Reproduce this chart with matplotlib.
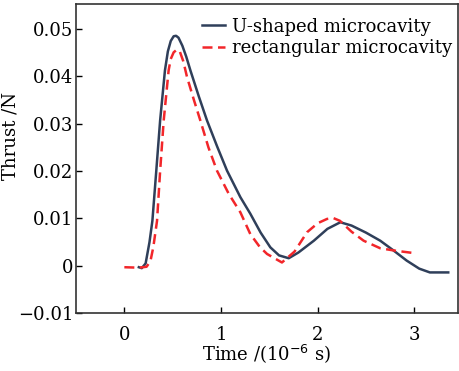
import matplotlib.pyplot as plt

# U-shaped microcavity (solid)
t_u = [0.15, 0.18, 0.22, 0.26, 0.29, 0.33, 0.37, 0.42, 0.45, 0.48, 0.51, 0.535, 0.56, 0.60,
       0.64, 0.683, 0.77, 0.855, 0.96, 1.062, 1.2, 1.303, 1.41, 1.51, 1.60, 1.70, 1.80, 1.96,
       2.10, 2.234, 2.35, 2.50, 2.647, 2.78, 2.92, 3.05, 3.16, 3.35]
f_u = [-0.0003, -0.0005, 0.0005, 0.005, 0.0095, 0.020, 0.0307, 0.0413, 0.0453, 0.0475, 0.0485,
       0.0486, 0.0482, 0.0465, 0.0442, 0.0413, 0.0358, 0.0307, 0.0252, 0.0201, 0.0145, 0.0110,
       0.0070, 0.0039, 0.0022, 0.0016, 0.0028, 0.0053, 0.0078, 0.0092, 0.0085, 0.0070, 0.0053,
       0.0033, 0.0011, -0.0006, -0.0014, -0.0014]

# rectangular microcavity (dashed)
t_r = [0.0, 0.15, 0.23, 0.27, 0.30, 0.338, 0.37, 0.407, 0.458, 0.48, 0.51, 0.545, 0.575, 0.61,
       0.648, 0.72, 0.786, 0.87, 0.958, 1.08, 1.2, 1.303, 1.40, 1.476, 1.63, 1.76, 1.89, 2.00,
       2.096, 2.16, 2.23, 2.35, 2.475, 2.647, 2.80, 2.99]
f_r = [-0.0003, -0.0004, -0.0002, 0.001, 0.004, 0.0095, 0.020, 0.0307, 0.0413, 0.0437, 0.0451,
       0.0457, 0.0452, 0.0432, 0.0399, 0.0350, 0.0307, 0.0250, 0.0201, 0.0152, 0.0113, 0.0067,
       0.0040, 0.0025, 0.0007, 0.0030, 0.0071, 0.0090, 0.0099, 0.0101, 0.0095, 0.0072, 0.0053,
       0.0037, 0.0032, 0.0027]

plt.rcParams['font.family'] = 'DejaVu Serif'
fig = plt.figure(figsize=(4.59, 3.71), dpi=100)
ax = fig.add_axes([0.1656, 0.156, 0.832, 0.833])

ax.plot(t_u, f_u, color='#2f3f5a', lw=1.8, label='U-shaped microcavity')
ax.plot(t_r, f_r, color='#f2262a', lw=1.8, ls=(0, (4, 2.2)), label='rectangular microcavity')

ax.set_xlim(-0.5, 3.45)
ax.set_ylim(-0.01, 0.0553)
ax.set_xticks([0, 1, 2, 3])
ax.set_yticks([-0.01, 0, 0.01, 0.02, 0.03, 0.04, 0.05])
ax.set_yticklabels(['\u22120.01', '0', '0.01', '0.02', '0.03', '0.04', '0.05'])
ax.tick_params(direction='in', labelsize=13, length=4, width=1)
ax.tick_params(axis='x', pad=9)
ax.tick_params(axis='y', pad=2)
ax.set_xlabel('Time /(10$^{-6}$ s)', fontsize=13, labelpad=-1)
ax.set_ylabel('Thrust /N', fontsize=13)
ax.yaxis.set_label_coords(-0.147, 0.573)
for s in ax.spines.values():
    s.set_linewidth(1.2)
    s.set_color('#333333')

ax.legend(loc='upper right', bbox_to_anchor=(1.0, 0.974), frameon=False, fontsize=13,
          handlelength=1.3, handletextpad=0.4, labelspacing=0.2, borderaxespad=0.1, borderpad=0.2)

fig.savefig('out.png', dpi=100)
